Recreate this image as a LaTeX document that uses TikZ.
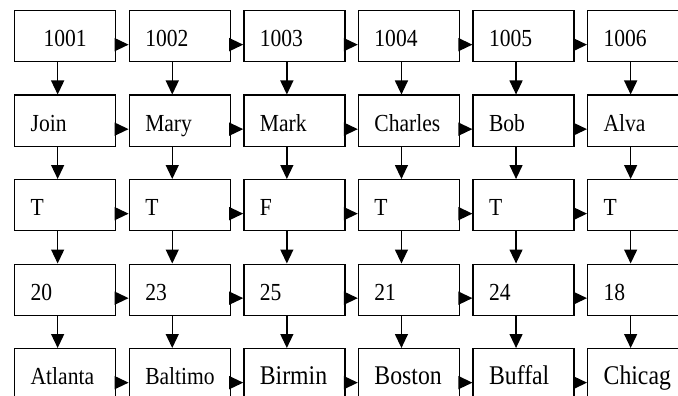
\documentclass[tikz,border=0pt]{standalone}
\usepackage{fontspec}
\setmainfont[FakeStretch=0.88]{Liberation Serif}
\usetikzlibrary{arrows.meta}

\tikzset{
    cell/.style={draw, line width=1.3pt, rectangle, anchor=north west,
        inner xsep=16pt, inner ysep=0pt, text width=69pt, align=left,
        text height=36pt, text depth=15pt, font=\fontsize{24.5}{27}\selectfont},
    bigcell/.style={cell, font=\fontsize{27}{30}\selectfont},
    link/.style={line width=1.3pt, -{Triangle[length=14pt,width=13pt]}}
}

\begin{document}
\begin{tikzpicture}[x=1pt,y=-1pt]
\useasboundingbox (0,0) rectangle (678,396);
\clip (0,0) rectangle (678,396);

% Records
\node[cell, align=center] (n1-1) at (14,10) {1001};
\foreach \txt [count=\c from 2] in {1002,1003,1004,1005,1006}
    \node[cell] (n1-\c) at ({14+114.6*(\c-1)},10) {\txt};
\foreach \txt [count=\c] in {Join,Mary,Mark,Charles,Bob,Alva}
    \node[cell] (n2-\c) at ({14+114.6*(\c-1)},94.5) {\txt};
\foreach \txt [count=\c] in {T,T,F,T,T,T}
    \node[cell] (n3-\c) at ({14+114.6*(\c-1)},179) {\txt};
\foreach \txt [count=\c] in {20,23,25,21,24,18}
    \node[cell] (n4-\c) at ({14+114.6*(\c-1)},263.5) {\txt};
\foreach \txt [count=\c] in {Atlanta,Baltimo}
    \node[cell] (n5-\c) at ({14+114.6*(\c-1)},348) {\txt};
\foreach \txt [count=\c from 3] in {Birmin,Boston,Buffal,Chicag}
    \node[bigcell] (n5-\c) at ({14+114.6*(\c-1)},348) {\txt};

% Links
\foreach \r in {1,...,5}
    \foreach \c [count=\d from 2] in {1,...,5}
        \draw[link] ([yshift=-8.5pt]n\r-\c.east) -- ([yshift=-8.5pt]n\r-\d.west);
\foreach \r [count=\s from 2] in {1,...,4}
    \foreach \c in {1,...,6}
        \draw[link] ([xshift=-7.5pt]n\r-\c.south) -- ([xshift=-7.5pt]n\s-\c.north);

\end{tikzpicture}
\end{document}
